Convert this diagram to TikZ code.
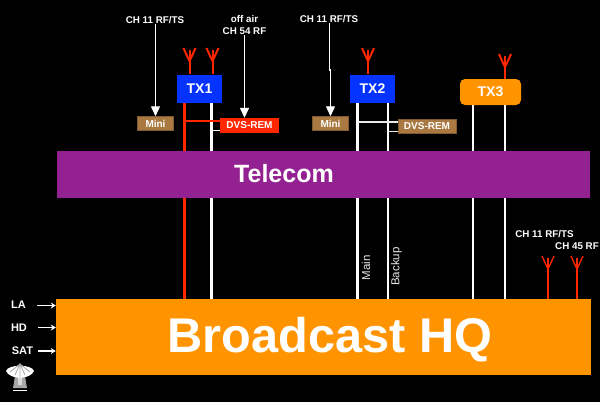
\documentclass[tikz,border=0pt]{standalone}
\usepackage{fontspec}
\setmainfont{Liberation Sans}
\usetikzlibrary{arrows.meta}
\definecolor{txblue}{HTML}{0433FF}
\definecolor{sigred}{HTML}{FF2600}
\definecolor{brownbox}{HTML}{AA7942}
\definecolor{telecom}{HTML}{942192}
\definecolor{hqorange}{HTML}{FF9300}
\definecolor{linegray}{HTML}{E8E8E8}
\tikzset{
  box/.style={inner sep=0pt,text=white,font=\bfseries},
  txbox/.style={box,fill=txblue,minimum width=45pt,minimum height=28pt,font=\bfseries\fontsize{14}{14}\selectfont},
  minibox/.style={box,fill=brownbox,draw=brownbox!75!black,line width=.5pt,font=\bfseries\fontsize{10}{10}\selectfont},
  label/.style={inner sep=0pt,text=white,font=\bfseries\fontsize{9.8}{12}\selectfont,align=center},
  sidelabel/.style={inner sep=0pt,text=white,font=\bfseries\fontsize{11}{11}\selectfont},
  rotlabel/.style={inner sep=0pt,text=linegray,rotate=90,font=\fontsize{11.5}{12}\selectfont},
  feed/.style={white,line width=1.4pt,-{Triangle[width=9pt,length=10pt]}},
  smallfeed/.style={white,line width=1.2pt,-{Stealth[width=6pt,length=5pt]}},
  trunk/.style={white,line width=2.2pt},
  tap/.style={line width=1.2pt},
  aerial/.style={sigred,line width=2pt},
  aerialthin/.style={sigred,line width=1.3pt}
}
\newcommand{\aerialat}[4]{% style, x, top y, bottom y
  \draw[#1] (#2,#3+11) -- (#2,#4);
  \draw[#1] (#2-6,#3) -- (#2-1.5,#3+10) -- (#2,#3+13) -- (#2+1.5,#3+10) -- (#2+6,#3);
  \draw[#1] (#2,#3+1.5) -- (#2,#3+11);
}
\begin{document}
\begin{tikzpicture}[x=1pt,y=-1pt]
\useasboundingbox (0,0) rectangle (600,402);
\fill[black] (0,0) rectangle (600,402);

\node[txbox] (tx1) at (199.5,89) {TX1};
\node[txbox] (tx2) at (372.5,89) {TX2};
\node[box,fill=hqorange,rounded corners=5pt,minimum width=61pt,minimum height=26pt,font=\bfseries\fontsize{14}{14}\selectfont] (tx3) at (490.5,92) {TX3};
\node[box,fill=hqorange,minimum width=535pt,minimum height=76pt] (hq) at (323.5,337) {};
\node[inner sep=0pt,text=white,font=\bfseries\fontsize{48.7}{49}\selectfont] (hqtext) at (330,339.5) {Broadcast HQ};

\node[minibox,minimum width=36pt,minimum height=14pt] (mini1) at (155.5,123.5) {Mini};
\node[minibox,minimum width=36pt,minimum height=14pt] (mini2) at (330.5,123.5) {Mini\hspace{6pt}};
\node[box,fill=sigred,minimum width=59pt,minimum height=15pt,font=\bfseries\fontsize{10}{10}\selectfont] (dvs1) at (249.5,125.5) {DVS-REM};
\node[minibox,minimum width=58pt,minimum height=14pt] (dvs2) at (427,126.3) {DVS-REM\hspace{4pt}};

% trunks
\draw[sigred,line width=2.2pt] (tx1.south -| 184.5,0) -- (hq.north -| 184.5,0);
\draw[trunk] (tx1.south -| 211.5,0) -- (hq.north -| 211.5,0);
\draw[trunk] (tx2.south -| 357.5,0) -- (hq.north -| 357.5,0);
\draw[trunk] (tx2.south -| 388,0) -- (hq.north -| 388,0);
\draw[trunk] (tx3.south -| 473,0) -- (hq.north -| 473,0);
\draw[trunk] (tx3.south -| 505,0) -- (hq.north -| 505,0);

% taps
\draw[tap,sigred,line width=1.6pt] (184.5,121) -- (dvs1.west |- 0,121);
\draw[tap,white] (211.5,130.5) -- (dvs1.west |- 0,130.5);
\draw[tap,linegray] (357.5,122) -- (dvs2.west |- 0,122);
\draw[tap,linegray] (388,131.5) -- (dvs2.west |- 0,131.5);

\node[box,fill=telecom,minimum width=533pt,minimum height=47pt] (telecom) at (323.5,174.5) {};
\node[inner sep=0pt,text=white,font=\bfseries\fontsize{25}{25}\selectfont] (telecomtext) at (284,174) {Telecom};

% aerials
\aerialat{aerial}{189.5}{48}{74}
\aerialat{aerial}{212.5}{48}{74}
\aerialat{aerial}{368}{48}{74}
\aerialat{aerial}{505}{54}{79}
\aerialat{aerialthin}{548}{256}{299}
\aerialat{aerialthin}{577}{256}{299}

% top labels and feeds
\node[label] (l1) at (155,20) {CH 11 RF/TS};
\node[label] (l2) at (244.5,25) {off air\\CH 54 RF};
\node[label] (l3) at (329,19) {CH 11 RF/TS};
\draw[feed] (l1.south -| 155.5,0) -- (mini1.north -| 155.5,0);
\draw[feed] (l2.south -| 244.5,0) -- (dvs1.north -| 244.5,0);
\draw[feed] (l3.south -| 329.5,0) -- (329.5,70) -- (330.5,70) -- (mini2.north);

% right labels
\node[label] (l4) at (544.5,234) {CH 11 RF/TS};
\node[label] (l5) at (577,246) {CH 45 RF};

% rotated
\node[rotlabel] (mainl) at (366,268) {Main};
\node[rotlabel] (backl) at (396.5,266.5) {Backup};

% side inputs
\node[sidelabel] (la) at (18.5,304.5) {LA};
\node[sidelabel] (hd) at (19,328) {HD};
\node[sidelabel] (sat) at (22.5,351) {SAT};
\coordinate (ca) at (37,305.5);
\coordinate (cb) at (38,327.5);
\coordinate (cc) at (38,351);
\draw[smallfeed] (ca) -- (hq.west |- ca);
\draw[smallfeed] (cb) -- (hq.west |- cb);
\draw[smallfeed] (cc) -- (hq.west |- cc);

% dish
\fill[gray!70] (15,376) -- (25,376) -- (27,388) -- (13,388) -- cycle;
\fill[gray!30] (18,376) -- (22,376) -- (22,385) -- (18,385) -- cycle;
\draw[white,line width=1pt] (13,390) -- (27,390);
\fill[white] (6,371) .. controls (8,364) and (32,364) .. (34,371) .. controls (30,380) and (10,380) .. (6,371) -- cycle;
\draw[gray!70,line width=.8pt] (20,363) -- (20,377) (20,364) -- (10,372) (20,364) -- (30,372) (20,364) -- (15,375) (20,364) -- (25,375);
\end{tikzpicture}
\end{document}
